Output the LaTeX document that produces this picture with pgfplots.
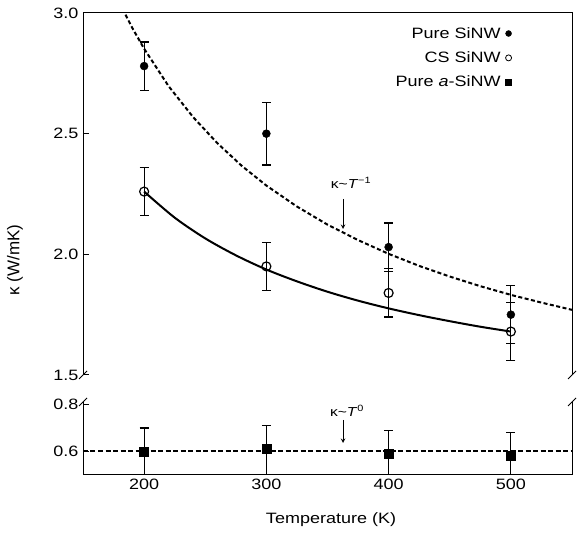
\documentclass[border=0pt]{standalone}
\usepackage{fontspec}
\setmainfont{Liberation Sans}[FakeStretch=1.2]
\newfontfamily\plainfont{Liberation Sans}
\usepackage{pgfplots}
\pgfplotsset{compat=1.18}
\newcommand\lgf{\fontsize{15}{17}\selectfont}
\begin{document}
\begin{tikzpicture}[x=1pt,y=1pt]
\useasboundingbox (-83,-59) rectangle (494,475);
\pgfplotsset{
  myax/.style={
    scale only axis, width=489pt, xmin=150, xmax=550,
    axis line style={draw=none},
    tick align=inside, major tick length=6pt,
    tick style={line width=1pt, black},
    ytick pos=left, xtick pos=bottom,
    /pgf/number format/assume math mode=true,
    tick label style={font=\fontsize{15}{17}\selectfont},
    yticklabel style={/pgf/number format/fixed, /pgf/number format/fixed zerofill, /pgf/number format/precision=1, xshift=-1pt},
    xticklabel style={/pgf/number format/set thousands separator={}},
    clip=true,
  },
  errb/.style={
    error bars/.cd, y dir=both, y explicit,
    error bar style={line width=1.2pt, black},
    error mark options={rotate=90, mark size=4.5pt, line width=1.2pt, black},
  },
}
% upper panel
\begin{axis}[myax, at={(0pt,100pt)}, anchor=south west, height=362pt,
  ymin=1.5, ymax=3.0, ytick={1.5,2.0,2.5,3.0}, xtick=\empty,
  legend style={at={(0.883,0.972)}, anchor=north east, draw=none, fill=none,
    nodes={font=\lgf}, row sep=8pt, column sep=3pt},
  legend cell align=right, legend plot pos=right]
\addplot[forget plot, black, line width=2pt, dash pattern=on 4pt off 2.5pt] coordinates {
(180,3.041) (190,2.941) (200,2.852) (220,2.697) (240,2.569) (260,2.460) (280,2.366)
(300,2.285) (325,2.198) (350,2.123) (375,2.059) (400,2.002) (425,1.952) (450,1.908)
(475,1.868) (500,1.832) (525,1.800) (550,1.770)};
\addplot[forget plot, black, line width=2pt, smooth] coordinates {
(200,2.260) (225,2.152) (250,2.066) (275,1.996) (300,1.937) (325,1.888) (350,1.845)
(375,1.808) (400,1.776) (425,1.748) (450,1.723) (475,1.700) (500,1.680)};
\addplot[forget plot, only marks, mark=*, mark size=4pt, black, errb] coordinates {
(200,2.78) +- (0,0.10)
(300,2.50) +- (0,0.13)
(400,2.03) +- (0,0.10)
(500,1.75) +- (0,0.12)};
\addplot[forget plot, only marks, mark=o, mark size=4.5pt, black, line width=1.2pt, mark options={fill=white}, errb] coordinates {
(200,2.26) +- (0,0.10)
(300,1.95) +- (0,0.10)
(400,1.84) +- (0,0.10)
(500,1.68) +- (0,0.12)};
\addlegendimage{only marks, mark=*, mark size=3pt, black}
\addlegendimage{only marks, mark=o, mark size=3pt, black, line width=0.8pt}
\addlegendimage{only marks, mark=square*, mark size=3pt, black}
\legend{\lgf Pure SiNW, \lgf CS SiNW, \lgf Pure \textit{a}-SiNW}
\end{axis}
% lower panel
\begin{axis}[myax, at={(0pt,0pt)}, anchor=south west, height=73pt,
  ymin=0.5, ymax=0.81, ytick={0.6,0.8}, xtick={200,300,400,500}]
\addplot[black, line width=2pt, dash pattern=on 5pt off 2.5pt] coordinates {(150,0.6) (550,0.6)};
\addplot[only marks, mark=square*, mark size=4.5pt, black, errb] coordinates {
(200,0.60) += (0,0.10) -= (0,0.10)
(300,0.61) += (0,0.10) -= (0,0.11)
(400,0.59) += (0,0.10) -= (0,0.09)
(500,0.58) += (0,0.10) -= (0,0.08)};
\end{axis}
% spines and break marks
\draw[line width=1pt] (0,100) -- (0,462) -- (489,462) -- (489,100);
\draw[line width=1pt] (0,73) -- (0,0) -- (489,0) -- (489,73);
\foreach \xx in {0,489} {
  \draw[line width=1pt] (\xx-4,96) -- (\xx+4,104);
  \draw[line width=1pt] (\xx-4,69) -- (\xx+4,77);
}
% annotations
\node[font=\fontsize{13}{15}\selectfont] at (268,292) {κ\textasciitilde\textit{T}\textsuperscript{−1}};
\draw[line width=1pt, -stealth] (260,276) -- (260,246);
\node[font=\fontsize{13}{15}\selectfont] at (264,64) {κ\textasciitilde\textit{T}\textsuperscript{0}};
\draw[line width=1pt, -stealth] (260,55) -- (260,32);
% axis labels
\node[rotate=90, font=\plainfont\fontsize{17}{19}\selectfont] at (-68,215) {κ (W/mK)};
\node[font=\fontsize{15}{17}\selectfont] at (248,-45) {Temperature (K)};
\end{tikzpicture}
\end{document}
